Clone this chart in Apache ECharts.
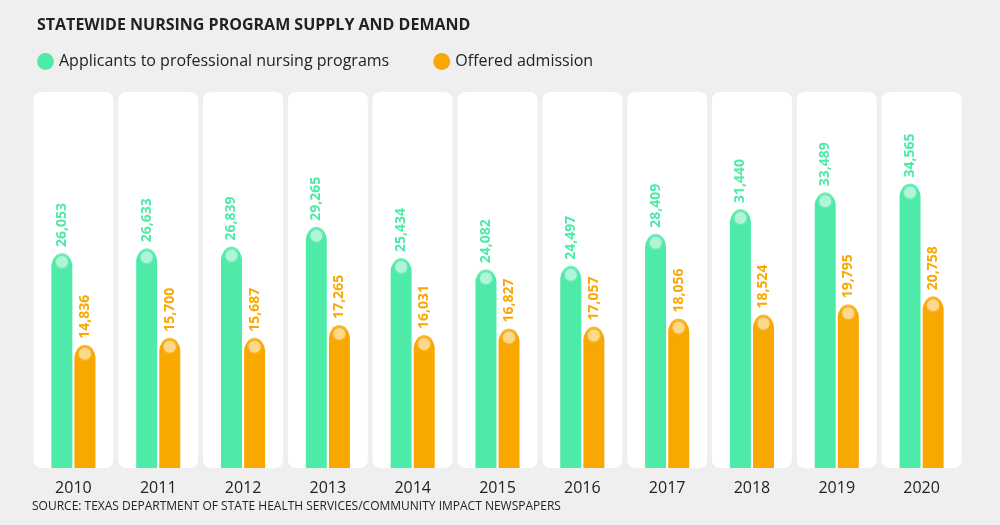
<!DOCTYPE html>
<html>
<head>
<meta charset="UTF-8">
<script src="https://cdn.jsdelivr.net/npm/echarts@6/dist/echarts.min.js"></script>
<style>body{margin:0;background:#efefef}</style>
</head>
<body>
<div id="chart" style="width:1000px;height:525px"></div>
<script>
var years = ['2010','2011','2012','2013','2014','2015','2016','2017','2018','2019','2020'];
var applicants = [26053,26633,26839,29265,25434,24082,24497,28409,31440,33489,34565];
var offered = [14836,15700,15687,17265,16031,16827,17057,18056,18524,19795,20758];
var AXIS_MAX = 46000;

var green = '#4eeaa8', orange = '#f8a800';
var chart = echarts.init(document.getElementById('chart'));
var fmt = function (p) { return p.value.toLocaleString('en-US'); };
function markers(vals, color, fill, dx) {
  return {
    type: 'scatter', data: vals, symbolSize: 15, symbolOffset: [dx, 7], z: 5,
    itemStyle: { color: fill, borderColor: color, borderWidth: 3 }, silent: true
  };
}
chart.setOption({
  backgroundColor: '#efefef',
  title: {
    text: 'STATEWIDE NURSING PROGRAM SUPPLY AND DEMAND', left: 32, top: 12,
    textStyle: { fontFamily: 'Open Sans', fontSize: 16, fontWeight: 'bold', color: '#222' }
  },
  legend: {
    left: 32, top: 48, icon: 'circle', itemWidth: 17, itemHeight: 17, itemGap: 44,
    data: ['Applicants to professional nursing programs', 'Offered admission'],
    textStyle: { fontFamily: 'Open Sans', fontSize: 16, color: '#222' }
  },
  graphic: [{
    type: 'text', left: 32, top: 501,
    style: { text: 'SOURCE: TEXAS DEPARTMENT OF STATE HEALTH SERVICES/COMMUNITY IMPACT NEWSPAPERS',
      fontFamily: 'Open Sans', fontSize: 12, fill: '#222' }
  }],
  grid: { left: 31, right: 36, top: 92, bottom: 57 },
  xAxis: [{
    type: 'category', data: years,
    axisLine: { show: false }, axisTick: { show: false },
    axisLabel: { fontFamily: 'Open Sans', fontSize: 16, color: '#222', margin: 12 }
  }, { type: 'category', data: years, show: false }],
  yAxis: { type: 'value', min: 0, max: AXIS_MAX, show: false },
  series: [{
    type: 'bar', xAxisIndex: 1, data: years.map(function () { return AXIS_MAX; }),
    barWidth: 80, itemStyle: { color: '#fff', borderRadius: 8 }, silent: true, z: 1
  }, {
    name: 'Applicants to professional nursing programs', type: 'bar', data: applicants,
    barWidth: 21, barGap: '10%', z: 3,
    itemStyle: { color: green, borderRadius: [11, 11, 0, 0] },
    label: { show: true, position: 'top', rotate: 90, align: 'left', verticalAlign: 'middle', distance: 8,
      formatter: fmt, fontFamily: 'Open Sans', fontWeight: 'bold', fontSize: 14, color: green }
  }, {
    name: 'Offered admission', type: 'bar', data: offered, barWidth: 21, z: 3,
    itemStyle: { color: orange, borderRadius: [11, 11, 0, 0] },
    label: { show: true, position: 'top', rotate: 90, align: 'left', verticalAlign: 'middle', distance: 8,
      formatter: fmt, fontFamily: 'Open Sans', fontWeight: 'bold', fontSize: 14, color: orange }
  },
  markers(applicants, green, '#c9f7e2', -11.5),
  markers(offered, orange, '#fde3b0', 11.5)
  ]
});
</script>
</body>
</html>
